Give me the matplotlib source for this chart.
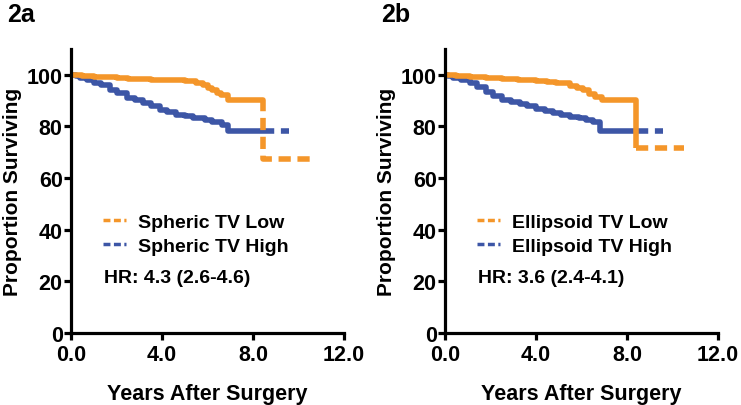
import numpy as np
import matplotlib
matplotlib.use("Agg")
import matplotlib.pyplot as plt
from matplotlib.lines import Line2D

plt.rcParams['font.family'] = ['Liberation Sans', 'DejaVu Sans']
plt.rcParams['font.weight'] = 'bold'

ORANGE = '#F4962A'
BLUE = '#3D56A6'

# Kaplan-Meier curves (years, % surviving)
spheric_low_t = [0, 0.5, 1.0, 1.5, 2.0, 2.5, 3.0, 3.5, 4.0, 4.5, 5.0, 5.5, 5.8, 6.0, 6.2, 6.4, 6.6, 6.9, 8.45]
spheric_low_s = [100, 99.6, 99.2, 99.0, 98.7, 98.5, 98.3, 98.1, 98.0, 97.8, 97.5, 97.0, 96.0, 95.0, 94.0, 93.0, 92.2, 90.3, 67.5]
spheric_low_end = 10.5

spheric_high_t = [0, 0.2, 0.4, 0.7, 1.0, 1.3, 1.7, 2.0, 2.45, 2.8, 3.15, 3.5, 3.9, 4.2, 4.6, 5.0, 5.35, 5.9, 6.2, 6.65, 6.9]
spheric_high_s = [100, 99.5, 98.8, 97.8, 97.0, 96.1, 94.2, 92.8, 91.1, 90.2, 89.2, 87.8, 86.5, 85.6, 84.6, 83.9, 83.4, 82.6, 81.9, 80.7, 78.4]
spheric_high_end = 9.6

ellip_low_t = [0, 0.5, 1.1, 1.8, 2.5, 3.2, 4.0, 4.5, 4.9, 5.5, 5.8, 6.05, 6.35, 6.6, 6.9, 8.4]
ellip_low_s = [100, 99.6, 99.2, 98.9, 98.5, 98.1, 97.7, 97.3, 96.9, 95.8, 95.0, 94.2, 92.6, 91.5, 90.3, 71.8]
ellip_low_end = 10.5

ellip_high_t = [0, 0.15, 0.35, 0.7, 1.1, 1.4, 1.8, 2.1, 2.5, 2.9, 3.3, 3.6, 4.0, 4.4, 4.75, 5.1, 5.5, 5.9, 6.2, 6.5, 6.8]
ellip_high_s = [100, 99.5, 98.8, 98.0, 96.9, 95.3, 93.4, 91.8, 90.3, 89.6, 88.8, 87.8, 86.9, 86.0, 85.3, 84.6, 83.8, 83.2, 82.6, 81.8, 78.4]
ellip_high_end = 9.6

solid_until = 8.4

panels = [
    ('2a', 'Spheric TV Low', 'Spheric TV High', 'HR: 4.3 (2.6-4.6)',
     (spheric_low_t, spheric_low_s, spheric_low_end),
     (spheric_high_t, spheric_high_s, spheric_high_end)),
    ('2b', 'Ellipsoid TV Low', 'Ellipsoid TV High', 'HR: 3.6 (2.4-4.1)',
     (ellip_low_t, ellip_low_s, ellip_low_end),
     (ellip_high_t, ellip_high_s, ellip_high_end)),
]

LW = 4.0


def draw_km(ax, t, s, end, color):
    t = list(t) + [end]
    s = list(s) + [s[-1]]
    t = np.array(t)
    s = np.array(s)
    # solid (dense) part
    m = t <= solid_until
    ts = np.append(t[m], solid_until)
    ss = np.append(s[m], s[m][-1])
    ax.step(ts, ss, where='post', color=color, lw=LW, solid_capstyle='butt', clip_on=False)
    # sparse tail drawn dashed
    k = np.searchsorted(t, solid_until, side='right')
    td = np.concatenate([[solid_until], t[k:]])
    sd = np.concatenate([[s[m][-1]], s[k:]])
    ax.step(td, sd, where='post', color=color, lw=LW, linestyle=(0, (2.2, 1.2)),
            dash_capstyle='butt', clip_on=False)


fig = plt.figure(figsize=(7.41, 4.06), dpi=100)
lefts = [71 / 741, 445 / 741]
for (label, low_lab, high_lab, hr, low, high), left in zip(panels, lefts):
    ax = fig.add_axes([left, 1 - 334 / 406, 273 / 741, 284 / 406])
    draw_km(ax, *high, BLUE)
    draw_km(ax, *low, ORANGE)
    ax.set_xlim(0, 12)
    ax.set_ylim(0, 110)
    ax.set_xticks([0, 4, 8, 12])
    ax.set_xticklabels(['0.0', '4.0', '8.0', '12.0'])
    ax.set_yticks([0, 20, 40, 60, 80, 100])
    for sp in ['top', 'right']:
        ax.spines[sp].set_visible(False)
    for sp in ['left', 'bottom']:
        ax.spines[sp].set_linewidth(2.3)
    ax.tick_params(width=2.3, length=5, labelsize=15.5, pad=1, direction='out')
    ax.tick_params(axis='x', pad=3)
    ax.set_xlabel('Years After Surgery', fontsize=15.5, fontweight='bold', labelpad=13)
    ax.set_ylabel('Proportion Surviving', fontsize=15, fontweight='bold', labelpad=3)

    handles = [Line2D([], [], color=ORANGE, lw=2.5, linestyle=(0, (2, 1))),
               Line2D([], [], color=BLUE, lw=2.5, linestyle=(0, (2, 1)))]
    ax.legend(handles, [low_lab, high_lab], loc='upper left', bbox_to_anchor=(0.08, 0.455),
              frameon=False, handlelength=1.2, handletextpad=0.6,
              labelspacing=0.3, borderpad=0, prop={'weight': 'bold', 'size': 14})
    ax.text(0.12, 0.197, hr, transform=ax.transAxes, fontsize=14, fontweight='bold', va='center')
    fig.text(left - 64 / 741, 1 - 22 / 406, label, fontsize=18, fontweight='bold', va='baseline')

fig.savefig('out.png', dpi=100)
